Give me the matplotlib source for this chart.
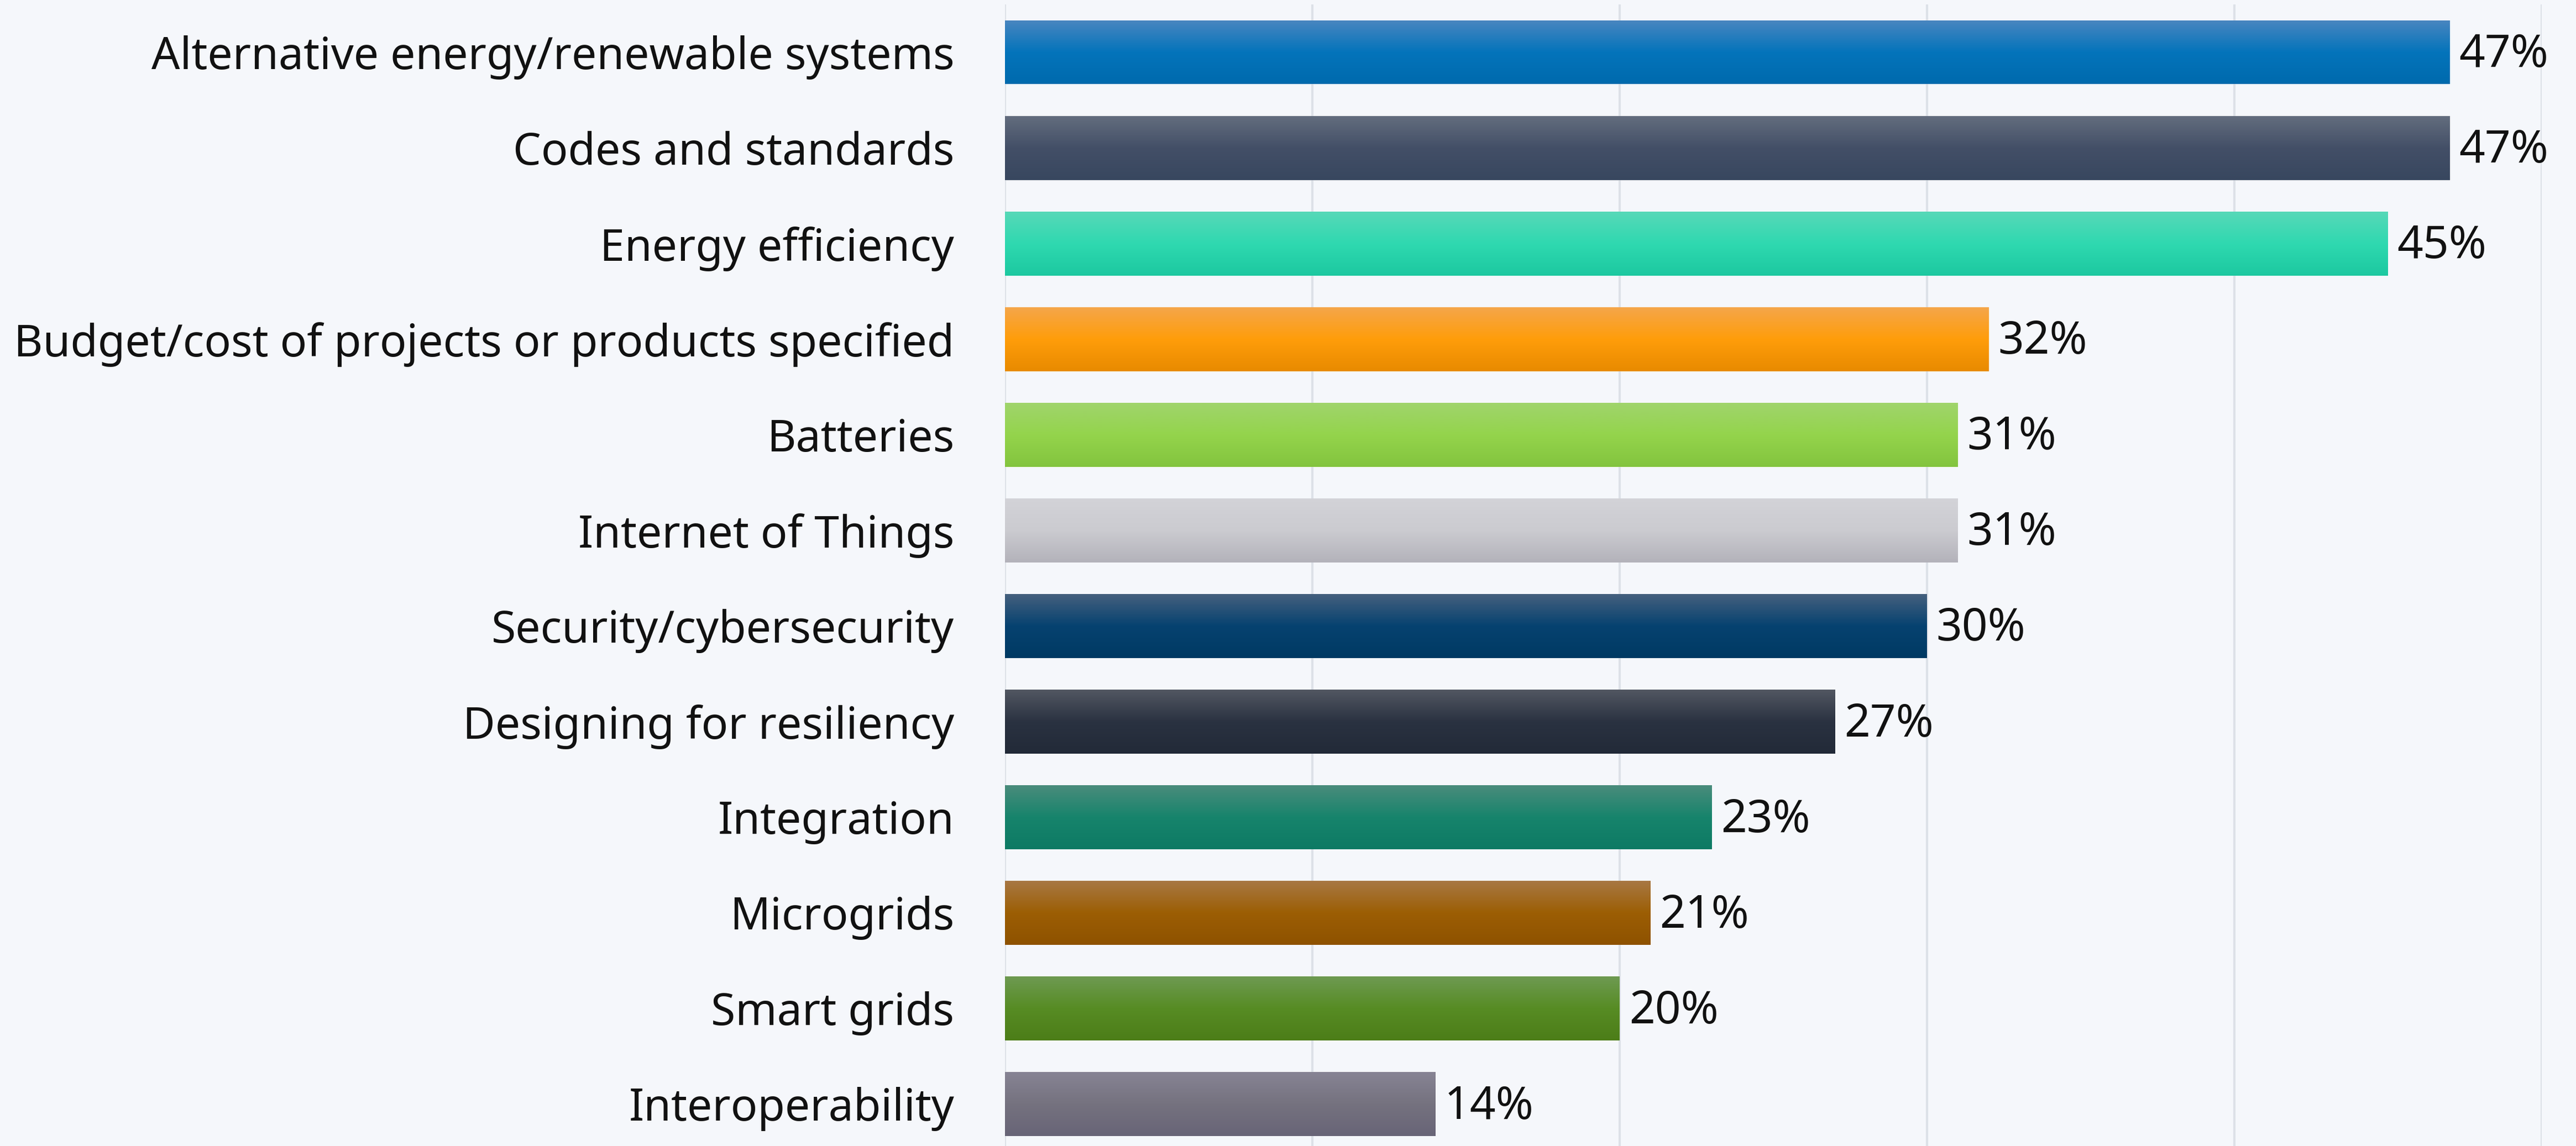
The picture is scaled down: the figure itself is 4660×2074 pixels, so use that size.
import numpy as np
import matplotlib
matplotlib.use('Agg')
import matplotlib.pyplot as plt
from matplotlib.colors import LinearSegmentedColormap

categories = ['Alternative energy/renewable systems', 'Codes and standards',
              'Energy efficiency', 'Budget/cost of projects or products specified',
              'Batteries', 'Internet of Things', 'Security/cybersecurity',
              'Designing for resiliency', 'Integration', 'Microgrids',
              'Smart grids', 'Interoperability']
values = [47, 47, 45, 32, 31, 31, 30, 27, 23, 21, 20, 14]

# top / middle / bottom colour of each bar's vertical gradient
bar_colors = [
    ('#4a86c0', '#0474bb', '#006aad'),
    ('#636d7e', '#434f67', '#38475f'),
    ('#57d8b8', '#2fd9b0', '#1cc8a0'),
    ('#f5a64a', '#ff9d0a', '#e88a00'),
    ('#a0d46c', '#94d44c', '#83c43e'),
    ('#d3d3d8', '#cbcbd0', '#b3b2ba'),
    ('#45607e', '#064270', '#003a63'),
    ('#525762', '#2a3241', '#222a38'),
    ('#4a8c7c', '#17846c', '#0d7a64'),
    ('#a87844', '#9c5e04', '#8e5200'),
    ('#6e9a52', '#578c24', '#4c7d18'),
    ('#878494', '#75727f', '#686477'),
]

BG = '#f5f7fb'
FONT = ['Noto Sans', 'DejaVu Sans']

W, H = 4660, 2074
fig = plt.figure(figsize=(W / 100, H / 100), dpi=100, facecolor=BG)
ax = fig.add_axes([1818 / W, 0, (4598 - 1818) / W, (H - 8) / H], facecolor=BG)

y = np.arange(len(categories))
bh = 0.67
bars = ax.barh(y, values, height=bh, color='none', edgecolor='none', zorder=2)

grad = np.linspace(0, 1, 256).reshape(-1, 1)
for bar, cols in zip(bars, bar_colors):
    cmap = LinearSegmentedColormap.from_list('g', [(0, cols[0]), (0.5, cols[1]), (1, cols[2])])
    x0, y0 = bar.get_x(), bar.get_y()
    im = ax.imshow(grad, cmap=cmap, aspect='auto', zorder=2,
                   extent=[x0, x0 + bar.get_width(), y0 + bar.get_height(), y0],
                   interpolation='bilinear')
    im.set_clip_path(bar)

for yi, v in zip(y, values):
    ax.text(v + 0.3, yi + 0.03, f'{v}%', va='center', ha='left', fontsize=59,
            color='#111111', family=FONT)

ax.set_xlim(0, 50)
ax.set_ylim((H - 95) / 173, -0.5)
ax.set_xticks(np.arange(0, 51, 10))
ax.grid(axis='x', color='#dde1e8', linewidth=3, zorder=0)
ax.set_axisbelow(True)
ax.set_yticks(y)
ax.set_yticklabels(categories, fontsize=58, color='#111111', family=FONT)
ax.tick_params(axis='y', length=0, pad=66)
ax.tick_params(axis='x', length=0, labelbottom=False)
for s in ax.spines.values():
    s.set_visible(False)

fig.savefig('out.png', dpi=100, facecolor=BG)
